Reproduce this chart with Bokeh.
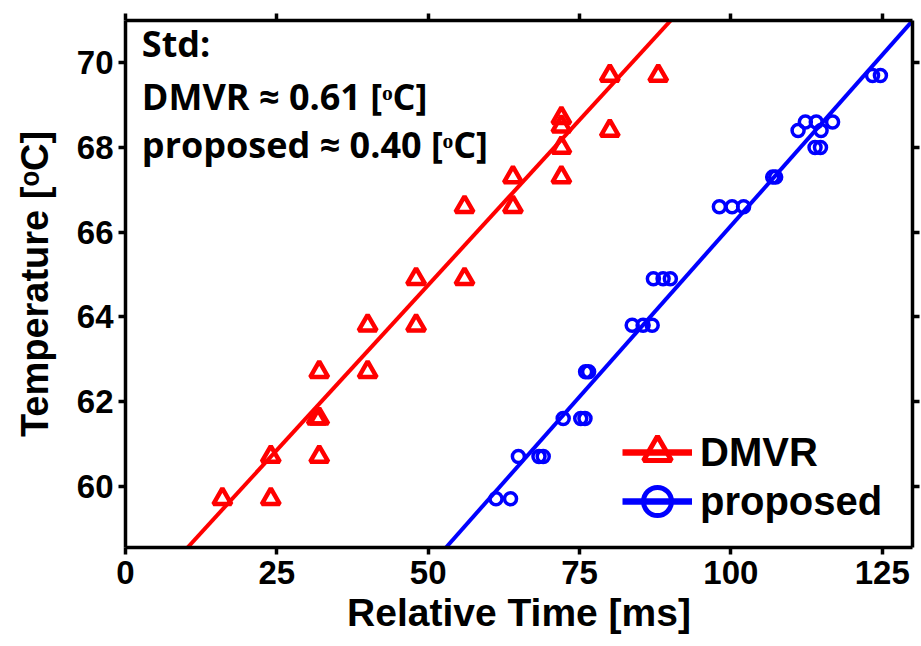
import numpy as np
from bokeh.plotting import figure
from bokeh.models import (Range1d, LinearAxis, FixedTicker, Legend, LegendItem,
                          Label, CustomJSTickFormatter)
from bokeh.embed import file_html
from bokeh.resources import INLINE

# ---- data ----
dmvr_time = [16, 24, 24, 32, 31.6, 32, 32, 40, 40, 48, 48, 56, 56, 64, 64,
             72, 72, 72, 72, 80, 80, 88]
dmvr_temp = [59.7, 59.7, 60.7, 60.7, 61.6, 61.6, 62.7, 62.7, 63.8, 63.8, 64.9,
             64.9, 66.6, 66.6, 67.3, 67.3, 68.0, 68.5, 68.7, 68.4, 69.7, 69.7]

prop_time = [61.2, 63.6, 64.9, 68.3, 69.0, 72.3, 75.2, 75.9, 76.0, 76.5,
             83.7, 85.5, 87.0, 87.2, 88.8, 90.0, 98.1, 100.2, 102.1, 106.9,
             107.4, 111.1, 114.9, 112.3, 114.1, 116.8, 113.9, 114.8, 123.4, 124.7]
prop_temp = [59.7, 59.7, 60.7, 60.7, 60.7, 61.6, 61.6, 61.6, 62.7, 62.7,
             63.8, 63.8, 63.8, 64.9, 64.9, 64.9, 66.6, 66.6, 66.6, 67.3,
             67.3, 68.4, 68.4, 68.6, 68.6, 68.6, 68.0, 68.0, 69.7, 69.7]

# linear fits (slope, intercept)
dmvr_fit = [0.156, 56.95]
prop_fit = [0.1615, 50.0]

x_ticks = [0, 25, 50, 75, 100, 125]
y_ticks = [60, 62, 64, 66, 68, 70]
x_lim = [0, 130]
y_lim = [58.55, 71.0]

std_text = ["Std:", "DMVR \u2248 0.61 [\u1d52C]", "proposed \u2248 0.40 [\u1d52C]"]
series_names = ["DMVR", "proposed"]

RED = "#ff0000"
BLUE = "#0000ff"
TICK_FONT = "Liberation Sans"

p = figure(width=921, height=646, output_backend="svg", toolbar_location=None,
           x_range=Range1d(*x_lim), y_range=Range1d(*y_lim),
           min_border_left=125, min_border_right=9, min_border_top=20,
           min_border_bottom=99)
p.grid.visible = False
p.outline_line_color = None
p.background_fill_color = "white"
p.border_fill_color = "white"

def fit_line(fit):
    m, b = fit
    ys = np.array(y_lim)
    xs = (ys - b) / m
    return xs, ys

rx, ry = fit_line(dmvr_fit)
bx, by = fit_line(prop_fit)
r_line = p.line(rx, ry, line_color=RED, line_width=4)
b_line = p.line(bx, by, line_color=BLUE, line_width=4)
r_sc = p.scatter(dmvr_time, dmvr_temp, marker="triangle", size=18,
                 fill_color=None, line_color=RED, line_width=4.5)
b_sc = p.scatter(prop_time, prop_temp, marker="circle", size=12,
                 fill_color=None, line_color=BLUE, line_width=3.5)

# legend-only renderers (hidden copies with heavier strokes)
lr_line = p.line(rx, ry, line_color=RED, line_width=6.5, visible=False)
lr_sc = p.scatter(dmvr_time, dmvr_temp, marker="triangle", fill_color=None,
                  line_color=RED, line_width=5, visible=False)
lb_line = p.line(bx, by, line_color=BLUE, line_width=6.5, visible=False)
lb_sc = p.scatter(prop_time, prop_temp, marker="circle", fill_color=None,
                  line_color=BLUE, line_width=5, visible=False)

def make_legend(name, rends, loc):
    return Legend(items=[LegendItem(label=name, renderers=rends)],
                  location=loc, glyph_width=70, glyph_height=70,
                  padding=0, margin=0, label_standoff=8,
                  label_text_font=TICK_FONT, label_text_font_style="bold",
                  label_text_font_size="40px", label_text_color="black",
                  border_line_color=None, background_fill_alpha=0,
                  inactive_fill_alpha=0, click_policy="none")

p.add_layout(make_legend(series_names[0], [lr_line, lr_sc], (497, 60)))
p.add_layout(make_legend(series_names[1], [lb_line, lb_sc], (497, 11)))

def style_axis(ax):
    ax.axis_line_width = 3.5
    ax.axis_line_color = "black"
    ax.major_tick_line_width = 3.5
    ax.major_tick_line_color = "black"
    ax.major_tick_out = 7
    ax.major_tick_in = 0
    ax.minor_tick_out = 0
    ax.minor_tick_in = 0
    ax.major_label_text_font = TICK_FONT
    ax.major_label_text_font_style = "bold"
    ax.major_label_text_font_size = "33px"
    ax.major_label_text_color = "black"
    ax.axis_label_text_font = TICK_FONT
    ax.axis_label_text_font_style = "bold"
    ax.axis_label_text_font_size = "39px"
    ax.axis_label_text_color = "black"

xa = p.xaxis[0]
ya = p.yaxis[0]
xa.ticker = FixedTicker(ticks=x_ticks)
ya.ticker = FixedTicker(ticks=y_ticks)
style_axis(xa)
style_axis(ya)
xa.axis_label = "Relative Time [ms]"
ya.axis_label = "Temperature [\u1d52C]"
ya.axis_label_text_font_size = "38px"
xa.major_label_standoff = 6
ya.major_label_standoff = 5
xa.axis_label_standoff = 4
ya.axis_label_standoff = 18

top = LinearAxis(ticker=FixedTicker(ticks=x_ticks),
                 formatter=CustomJSTickFormatter(code="return ''"))
right = LinearAxis(ticker=FixedTicker(ticks=y_ticks),
                   formatter=CustomJSTickFormatter(code="return ''"))
for ax in (top, right):
    style_axis(ax)
    ax.major_label_text_font_size = "1px"
    ax.major_label_standoff = 0
p.add_layout(top, "above")
p.add_layout(right, "right")

# Std annotation
label_y = [70.45, 69.2, 68.07]
for t, yy in zip(std_text, label_y):
    p.add_layout(Label(x=2.7, y=yy, text=t, text_font="Open Sans",
                       text_font_style="bold", text_font_size="36px",
                       text_color="black", text_baseline="alphabetic"))

open("out.html", "w").write(file_html(p, INLINE))
